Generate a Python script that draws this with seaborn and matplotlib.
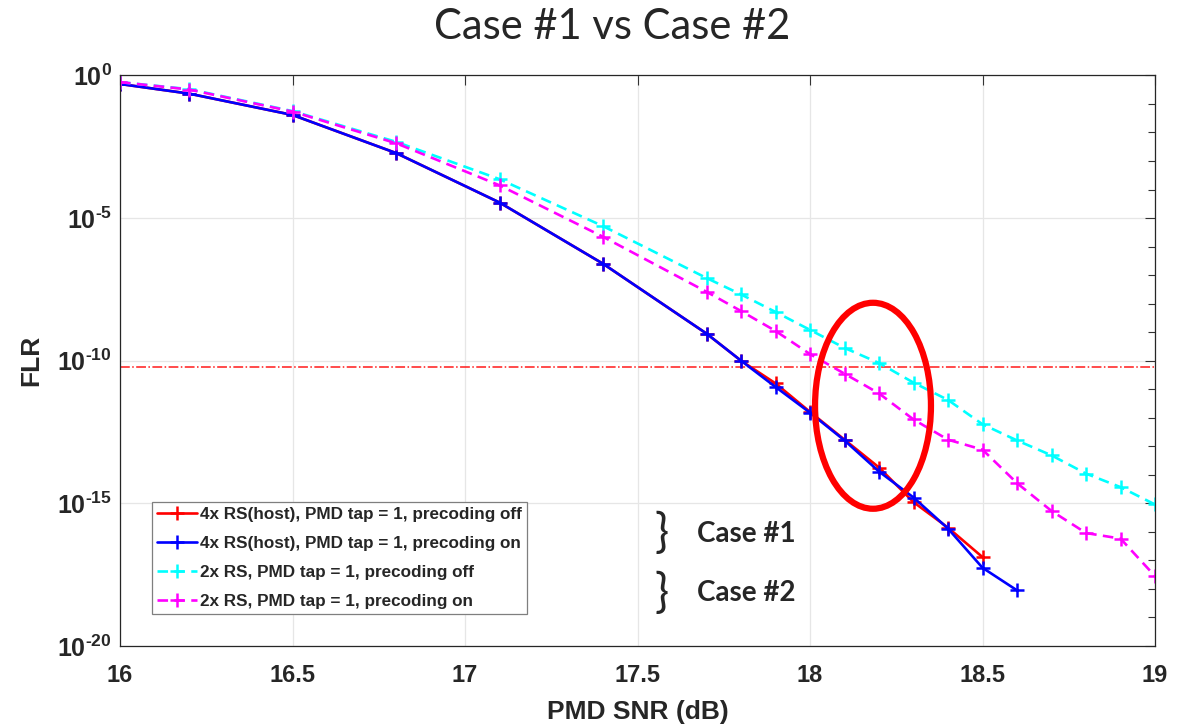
import numpy as np
import pandas as pd
import matplotlib
matplotlib.use('Agg')
import matplotlib.pyplot as plt
import seaborn as sns
from matplotlib.patches import Ellipse
from matplotlib.ticker import FixedLocator, FixedFormatter, NullFormatter

# %% ── Data ──────────────────────────────────────────────
snr_4x = [16.0, 16.2, 16.5, 16.8, 17.1, 17.4, 17.7, 17.8, 17.9, 18.0,
          18.1, 18.2, 18.3, 18.4, 18.5, 18.6]
flr_4x_off = [5.0e-1, 2.3e-1, 4.1e-2, 1.9e-3, 3.5e-5, 2.5e-7, 8.9e-10, 1.0e-10,
              1.6e-11, 1.6e-12, 1.7e-13, 1.8e-14, 1.1e-15, 1.4e-16, 1.3e-17]
flr_4x_on = [5.0e-1, 2.3e-1, 4.1e-2, 1.9e-3, 3.5e-5, 2.5e-7, 8.9e-10, 1.0e-10,
             1.2e-11, 1.5e-12, 1.6e-13, 1.3e-14, 1.6e-15, 1.3e-16, 5.5e-18, 8.9e-19]

snr_2x = [16.0, 16.2, 16.5, 16.8, 17.1, 17.4, 17.7, 17.8, 17.9, 18.0,
          18.1, 18.2, 18.3, 18.4, 18.5, 18.6, 18.7, 18.8, 18.9, 19.0]
flr_2x_off = [5.8e-1, 3.3e-1, 5.6e-2, 4.7e-3, 2.3e-4, 5.2e-6, 7.9e-8, 2.1e-8,
              5.1e-9, 1.2e-9, 2.8e-10, 8.3e-11, 1.7e-11, 4.2e-12, 5.9e-13,
              1.6e-13, 4.8e-14, 1.1e-14, 3.7e-15, 9.1e-16]
flr_2x_on = [5.8e-1, 3.2e-1, 5.4e-2, 4.2e-3, 1.4e-4, 2.2e-6, 2.6e-8, 5.5e-9,
             1.1e-9, 1.7e-10, 3.5e-11, 7.1e-12, 8.7e-13, 1.7e-13, 7.6e-14,
             5.1e-15, 5.4e-16, 9.1e-17, 5.8e-17, 2.8e-18]

flr_target = 6.2e-11

labels = ['4x RS(host), PMD tap = 1, precoding off',
          '4x RS(host), PMD tap = 1, precoding on',
          '2x RS, PMD tap = 1, precoding off',
          '2x RS, PMD tap = 1, precoding on']
colors = ['#ff0000', '#0000ff', '#00ffff', '#ff00ff']

xticks = [16, 16.5, 17, 17.5, 18, 18.5, 19]
yticks_major = [1e-20, 1e-15, 1e-10, 1e-5, 1e0]
ytick_labels = [r'$\mathbf{10^{\text{-}20}}$', r'$\mathbf{10^{\text{-}15}}$',
                r'$\mathbf{10^{\text{-}10}}$', r'$\mathbf{10^{\text{-}5}}$',
                r'$\mathbf{10^{0}}$']

# %% ── Style ──────────────────────────────────────────────
sns.set_style('white')
plt.rcParams['font.family'] = ['Liberation Sans', 'DejaVu Sans']
plt.rcParams['font.weight'] = 'bold'
plt.rcParams['mathtext.fontset'] = 'custom'
plt.rcParams['mathtext.rm'] = 'Liberation Sans:bold'
plt.rcParams['mathtext.bf'] = 'Liberation Sans:bold'

fig = plt.figure(figsize=(11.91, 7.25), dpi=100)
ax = fig.add_axes([0.1008, 0.109, 0.869, 0.787])

series = [
    (snr_4x[:len(flr_4x_off)], flr_4x_off, '-'),
    (snr_4x, flr_4x_on, '-'),
    (snr_2x, flr_2x_off, '--'),
    (snr_2x, flr_2x_on, '--'),
]

for (xs, ys, ls), lab, col in zip(series, labels, colors):
    df = pd.DataFrame({'snr': xs, 'flr': ys})
    sns.lineplot(data=df, x='snr', y='flr', ax=ax, color=col, label=lab,
                 linestyle=ls, linewidth=1.9, marker='+', markersize=10,
                 markeredgewidth=1.8, markeredgecolor=col)

for line in ax.get_lines():
    if line.get_linestyle() == '--':
        line.set_dashes((4, 2.4))

ax.axhline(flr_target, color='#ff1a1a', linestyle='-.', linewidth=1.1, zorder=1)

ax.set_yscale('log')
ax.set_xlim(16, 19)
ax.set_ylim(1e-20, 1e0)

ax.xaxis.set_major_locator(FixedLocator(xticks))
ax.set_xticklabels([f'{t:g}' for t in xticks])
ax.yaxis.set_major_locator(FixedLocator(yticks_major))
ax.yaxis.set_major_formatter(FixedFormatter(ytick_labels))
ax.yaxis.set_minor_locator(FixedLocator([10.0 ** (-k) for k in range(21) if k % 5]))
ax.yaxis.set_minor_formatter(NullFormatter())

ax.tick_params(axis='both', which='both', direction='in', top=True, right=True,
               color='#333333')
ax.tick_params(axis='x', labelsize=17, pad=13)
ax.tick_params(axis='y', labelsize=18, pad=6)
ax.tick_params(axis='both', which='major', length=7, width=0.8)
ax.tick_params(axis='y', which='minor', length=5, width=0.8)
for lab in ax.get_xticklabels():
    lab.set_fontweight('bold')

ax.grid(True, which='major', color='#e6e6e6', linewidth=0.9)
for sp in ax.spines.values():
    sp.set_color('#262626')
    sp.set_linewidth(0.9)

ax.set_xlabel('PMD SNR (dB)', fontsize=19, fontweight='bold', labelpad=9)
ax.set_ylabel('FLR', fontsize=19, fontweight='bold', labelpad=10)

fig.text(0.514, 0.963, 'Case #1 vs Case #2', ha='center', va='center',
         fontsize=30, fontweight='normal', family=['Lato', 'DejaVu Sans'])

leg = ax.legend(loc='lower left', bbox_to_anchor=(0.031, 0.056),
                prop={'weight': 'bold', 'size': 12.3}, frameon=True, fancybox=False,
                framealpha=1, edgecolor='#7f7f7f', handlelength=2.3,
                handletextpad=0.2, labelspacing=0.82, borderpad=0.3,
                borderaxespad=0)
leg.get_frame().set_linewidth(0.9)

# highlight ellipse around the target crossing
ax.add_patch(Ellipse((0.7275, 0.421), 0.112, 0.361, transform=ax.transAxes,
                     fill=False, edgecolor='#ff0000', linewidth=4.5, zorder=5))

# case braces and labels
for yc, txt in [(0.197, 'Case #1'), (0.093, 'Case #2')]:
    ax.text(0.523, yc, '}', transform=ax.transAxes, ha='center', va='center',
            fontsize=34, fontweight='normal', family=['Lato', 'DejaVu Sans'])
    ax.text(0.557, yc, txt, transform=ax.transAxes, ha='left', va='center',
            fontsize=20, fontweight='bold', family=['Lato', 'DejaVu Sans'])

fig.savefig('out.png', dpi=100)
